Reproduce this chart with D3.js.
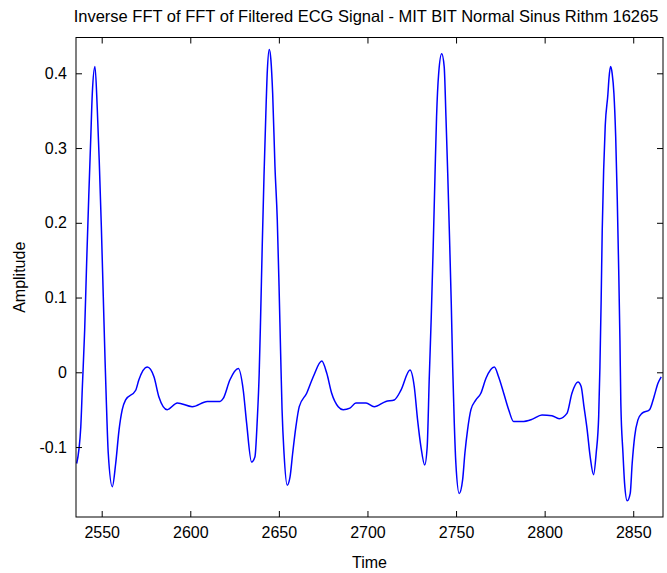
<!DOCTYPE html>
<html lang="en">
<head>
<meta charset="UTF-8">
<title>Inverse FFT of FFT of Filtered ECG Signal</title>
<script src="https://cdn.jsdelivr.net/npm/d3@7"></script>
<style>
  body { margin: 0; background: #fff; }
  svg { display: block; font-family: "Liberation Sans", Arial, Helvetica, sans-serif; }
</style>
</head>
<body>
<svg id="chart" width="667" height="573"></svg>
<script>
// samples (time, amplitude)
const time = [
  2535.9, 2538.2, 2539.1, 2540.4, 2541.5, 2542.7, 2543.8, 2544.7, 2546.2, 2547.5,
  2548.6, 2549.8, 2550.9, 2551.9, 2552.6, 2553.7, 2556.0, 2557.9, 2559.8, 2561.6,
  2563.5, 2569.2, 2571.0, 2575.7, 2579.5, 2582.3, 2587.0, 2592.7, 2601.1, 2609.6,
  2613.4, 2616.8, 2618.6, 2622.4, 2627.1, 2629.9, 2631.8, 2634.6, 2636.5, 2637.8,
  2638.9, 2639.7, 2640.6, 2641.6, 2642.6, 2643.5, 2644.6, 2645.5, 2646.5, 2647.8,
  2649.1, 2650.1, 2651.0, 2651.8, 2652.9, 2654.7, 2656.3, 2657.8, 2659.6, 2661.5,
  2665.7, 2669.4, 2674.2, 2677.0, 2679.8, 2683.5, 2686.3, 2690.1, 2693.5, 2699.2,
  2703.8, 2710.4, 2715.1, 2718.9, 2724.0, 2726.4, 2728.3, 2730.2, 2732.3, 2733.7,
  2734.9, 2736.0, 2737.1, 2738.1, 2739.0, 2740.2, 2741.9, 2743.3, 2744.3, 2745.3,
  2746.2, 2747.3, 2748.1, 2749.0, 2749.9, 2751.8, 2753.7, 2755.0, 2756.5, 2758.4,
  2761.2, 2764.0, 2766.9, 2771.6, 2774.0, 2776.9, 2779.7, 2782.5, 2787.2, 2792.8,
  2798.5, 2804.1, 2808.2, 2812.6, 2815.4, 2818.8, 2820.6, 2822.2, 2824.0, 2825.7,
  2827.6, 2829.1, 2830.5, 2831.2, 2831.9, 2832.5, 2833.3, 2834.2, 2835.7, 2836.3,
  2837.2, 2838.1, 2839.1, 2840.1, 2841.0, 2841.8, 2842.5, 2843.0, 2844.2, 2845.1,
  2846.6, 2848.3, 2849.4, 2850.8, 2852.6, 2854.9, 2859.2, 2861.7, 2863.9, 2865.8
];
const amplitude = [
  -0.122, -0.073, -0.019, 0.057, 0.146, 0.235, 0.311, 0.373, 0.409, 0.353,
  0.284, 0.195, 0.101, 0.016, -0.037, -0.108, -0.153, -0.122, -0.077, -0.050,
  -0.037, -0.024, -0.010, 0.007, -0.006, -0.033, -0.050, -0.041, -0.046, -0.039,
  -0.039, -0.039, -0.035, -0.010, 0.005, -0.024, -0.068, -0.120, -0.113, -0.064,
  -0.001, 0.074, 0.168, 0.262, 0.342, 0.404, 0.432, 0.418, 0.373, 0.275,
  0.204, 0.115, 0.025, -0.050, -0.108, -0.151, -0.140, -0.108, -0.073, -0.046,
  -0.028, -0.006, 0.015, -0.001, -0.028, -0.046, -0.050, -0.048, -0.041, -0.041,
  -0.046, -0.039, -0.037, -0.024, 0.003, -0.019, -0.064, -0.100, -0.124, -0.100,
  -0.006, 0.074, 0.168, 0.262, 0.342, 0.400, 0.426, 0.409, 0.342, 0.266,
  0.190, 0.092, 0.007, -0.068, -0.122, -0.162, -0.144, -0.108, -0.077, -0.050,
  -0.037, -0.028, -0.008, 0.007, -0.006, -0.028, -0.050, -0.066, -0.066, -0.063,
  -0.057, -0.058, -0.062, -0.055, -0.028, -0.013, -0.019, -0.046, -0.077, -0.113,
  -0.137, -0.108, -0.059, 0.007, 0.097, 0.190, 0.270, 0.330, 0.372, 0.393,
  0.409, 0.400, 0.373, 0.315, 0.230, 0.137, 0.043, -0.041, -0.108, -0.148,
  -0.172, -0.162, -0.122, -0.086, -0.064, -0.055, -0.050, -0.033, -0.015, -0.006
];
const xTicks = [2550, 2600, 2650, 2700, 2750, 2800, 2850];
const yTicks = [-0.1, 0, 0.1, 0.2, 0.3, 0.4];
const xDomain = [2535.5, 2866.8];
const yDomain = [-0.1936, 0.4479];

const titleText = "Inverse FFT of FFT of Filtered ECG Signal - MIT BIT Normal Sinus Rithm 16265";
const xLabel = "Time";
const yLabel = "Amplitude";

const width = 667, height = 573;
const margin = { top: 37.5, right: 4, bottom: 56, left: 76 };

const svg = d3.select("#chart");

const x = d3.scaleLinear().domain(xDomain).range([margin.left, width - margin.right]);
const y = d3.scaleLinear().domain(yDomain).range([height - margin.bottom, margin.top]);

const data = time.map((t, i) => ({ t: t, v: amplitude[i] }));

// plot line
svg.append("path")
  .datum(data)
  .attr("fill", "none")
  .attr("stroke", "#0000ff")
  .attr("stroke-width", 1.5)
  .attr("stroke-linejoin", "round")
  .attr("d", d3.line()
    .x(d => x(d.t))
    .y(d => y(d.v))
    .curve(d3.curveMonotoneX));

// axes, ticks pointing inward like matlab
const fmt = d => String(d);

svg.append("g")
  .attr("transform", `translate(0,${height - margin.bottom})`)
  .call(d3.axisBottom(x).tickValues(xTicks).tickFormat(fmt).tickSizeInner(-6).tickSizeOuter(0).tickPadding(10));

svg.append("g")
  .attr("transform", `translate(0,${margin.top})`)
  .call(d3.axisTop(x).tickValues(xTicks).tickFormat("").tickSizeInner(-6).tickSizeOuter(0));

svg.append("g")
  .attr("transform", `translate(${margin.left},0)`)
  .call(d3.axisLeft(y).tickValues(yTicks).tickFormat(fmt).tickSizeInner(-6).tickSizeOuter(0).tickPadding(9));

svg.append("g")
  .attr("transform", `translate(${width - margin.right},0)`)
  .call(d3.axisRight(y).tickValues(yTicks).tickFormat("").tickSizeInner(-6).tickSizeOuter(0));

svg.selectAll(".domain").remove();
svg.selectAll(".tick line").attr("stroke", "#000");
svg.selectAll(".tick text").attr("font-size", 16).attr("font-family", null).attr("fill", "#000");

// box
svg.append("rect")
  .attr("x", margin.left)
  .attr("y", margin.top)
  .attr("width", width - margin.left - margin.right)
  .attr("height", height - margin.top - margin.bottom)
  .attr("fill", "none")
  .attr("stroke", "#000")
  .attr("stroke-width", 1);

// title and labels
svg.append("text")
  .attr("x", 366)
  .attr("y", 22)
  .attr("text-anchor", "middle")
  .attr("font-size", 16.5)
  .text(titleText);

svg.append("text")
  .attr("x", (margin.left + width - margin.right) / 2)
  .attr("y", 568)
  .attr("text-anchor", "middle")
  .attr("font-size", 16)
  .text(xLabel);

svg.append("text")
  .attr("transform", `translate(25,${(margin.top + height - margin.bottom) / 2}) rotate(-90)`)
  .attr("text-anchor", "middle")
  .attr("font-size", 16)
  .text(yLabel);
</script>
</body>
</html>
